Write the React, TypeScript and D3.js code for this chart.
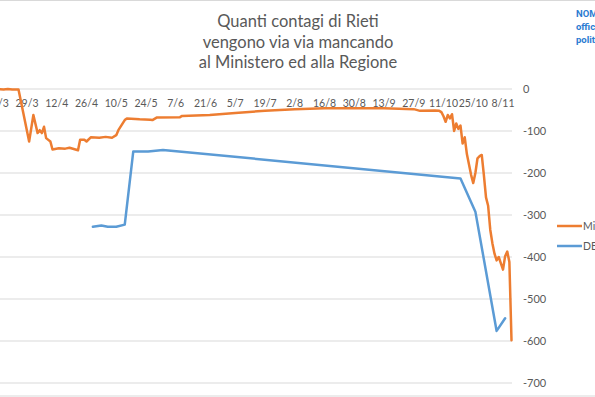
import React from "react";
import * as d3 from "d3";

const TITLE_LINES = ["Quanti contagi di Rieti", "vengono via via mancando", "al Ministero ed  alla Regione"];
const LOGO_LINES = ["NOMI", "offici", "politi"];
const SERIES_NAMES = ["Ministero", "DEP Lazio"];

const X_TICKS = ["15/3", "29/3", "12/4", "26/4", "10/5", "24/5", "7/6", "21/6", "5/7", "19/7", "2/8", "16/8", "30/8", "13/9", "27/9", "11/10", "25/10", "8/11"];
const Y_TICKS = [0, -100, -200, -300, -400, -500, -600, -700];

const MIN_DATES = [
  "15/3", "18/3", "20/3", "22/3", "25/3", "30/3", "1/4", "3/4", "4/4", "5/4", "6/4", "7/4", "9/4", "10/4",
  "13/4", "16/4", "18/4", "20/4", "22/4", "23/4", "25/4", "26/4", "28/4", "2/5", "5/5", "8/5", "10/5",
  "11/5", "14/5", "15/5", "21/5", "26/5", "27/5", "29/5", "9/6", "10/6", "23/6", "5/7", "19/7", "2/8",
  "16/8", "30/8", "13/9", "27/9", "30/9", "7/10", "9/10", "10/10", "11/10", "12/10", "13/10", "14/10",
  "15/10", "16/10", "17/10", "18/10", "19/10", "20/10", "21/10", "22/10", "23/10", "24/10", "25/10",
  "26/10", "27/10", "28/10", "29/10", "30/10", "31/10", "1/11", "2/11", "3/11", "4/11", "5/11", "6/11",
  "7/11", "8/11", "9/11", "10/11", "11/11", "12/11",
];
const MIN_VALUES = [
  0, -1, 0, -1, -1, -125, -62, -105, -98, -105, -90, -117, -125, -144,
  -141, -142, -140, -143, -146, -121, -121, -125, -115, -116, -114, -116, -110,
  -98, -74, -70, -72, -73, -74, -68, -67, -64, -62, -57, -52, -48,
  -46, -46, -46, -48, -52, -51, -52, -55, -65, -78, -62, -70,
  -60, -100, -82, -95, -87, -130, -115, -155, -180, -205, -224,
  -200, -165, -160, -157, -205, -258, -278, -335, -367, -392, -408, -400,
  -415, -430, -398, -387, -412, -598,
];

const DEP_DATES = ["29/4", "3/5", "6/5", "10/5", "14/5", "18/5", "25/5", "1/6", "19/10", "26/10", "5/11", "9/11"];
const DEP_VALUES = [-328, -325, -328, -328, -323, -149, -149, -145, -213, -292, -576, -546];

const parse = (s: string) => {
  const [d, m] = s.split("/").map(Number);
  return new Date(Date.UTC(2020, m - 1, d));
};

const ORANGE = "#ED7D31";
const BLUE = "#5B9BD5";
const TEXT = "#595959";
const GRID = "#D9D9D9";
const FONT = "Lato, 'Open Sans', sans-serif";

export default function App() {
  const x = d3.scaleUtc().domain([parse("29/3"), parse("8/11")]).range([27, 503]);
  const y = d3.scaleLinear().domain([0, -700]).range([89, 383]);
  const gridX0 = 0;
  const gridX1 = 512;

  const line = d3
    .line<[Date, number]>()
    .x((d) => x(d[0]))
    .y((d) => y(d[1]));

  const minData: [Date, number][] = MIN_DATES.map((d, i) => [parse(d), MIN_VALUES[i]]);
  const depData: [Date, number][] = DEP_DATES.map((d, i) => [parse(d), DEP_VALUES[i]]);

  return (
    <svg
      width={595}
      height={397}
      style={{ position: "absolute", left: 0, top: 0, background: "#fff" }}
      fontFamily={FONT}
    >
      <rect x={0} y={0} width={595} height={397} fill="#fff" />
      <line x1={0} x2={595} y1={0.5} y2={0.5} stroke={GRID} />
      <line x1={0} x2={595} y1={396} y2={396} stroke={GRID} />

      {TITLE_LINES.map((t, i) => (
        <text key={t} x={298} y={27 + i * 20.5} textAnchor="middle" fontSize={16.5} fill={TEXT}>
          {t}
        </text>
      ))}

      {LOGO_LINES.map((t, i) => (
        <text key={t} x={576} y={17 + i * 13} fontSize={9.5} fontWeight="bold" fill="#2B7BD1" fontFamily="Roboto, sans-serif">
          {t}
        </text>
      ))}

      {Y_TICKS.map((v) => (
        <g key={v}>
          <line x1={gridX0} x2={gridX1} y1={y(v)} y2={y(v)} stroke={GRID} strokeWidth={1} />
          <text x={523} y={y(v) + 4} fontSize={11} fill={TEXT}>
            {v}
          </text>
        </g>
      ))}

      {X_TICKS.map((t) => (
        <text key={t} x={x(parse(t))} y={107} textAnchor="middle" fontSize={10.5} fill={TEXT}>
          {t}
        </text>
      ))}

      <path d={line(minData) || ""} fill="none" stroke={ORANGE} strokeWidth={2.5} strokeLinejoin="round" strokeLinecap="round" />
      <path d={line(depData) || ""} fill="none" stroke={BLUE} strokeWidth={2.5} strokeLinejoin="round" strokeLinecap="round" />

      {SERIES_NAMES.map((n, i) => (
        <g key={n}>
          <line x1={557} x2={582} y1={226 + i * 20} y2={226 + i * 20} stroke={i === 0 ? ORANGE : BLUE} strokeWidth={2.5} />
          <text x={583} y={230 + i * 20} fontSize={10.5} fill={TEXT}>
            {n}
          </text>
        </g>
      ))}
    </svg>
  );
}
